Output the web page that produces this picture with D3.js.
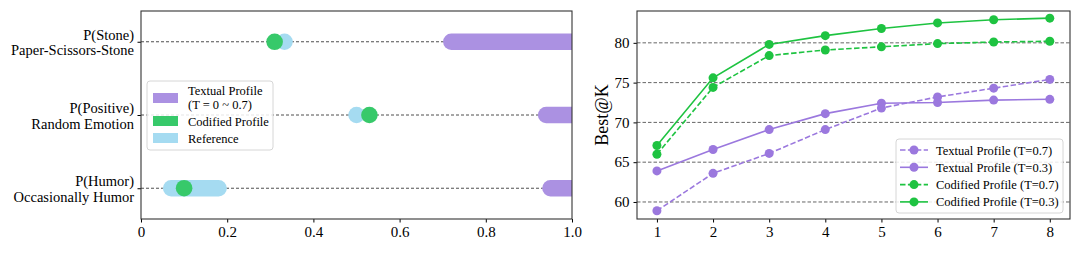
<!DOCTYPE html>
<html>
<head>
<meta charset="utf-8">
<script src="https://cdn.jsdelivr.net/npm/d3@7"></script>
<style>
  body { margin: 0; background: #fff; }
  svg, svg text { font-family: "Liberation Serif", "DejaVu Serif", serif; }
</style>
</head>
<body>
<div id="chart"></div>
<script>
// ---- data: left panel (rows top to bottom) ----
const rowProb = ["P(Stone)", "P(Positive)", "P(Humor)"];
const rowTask = ["Paper-Scissors-Stone", "Random Emotion", "Occasionally Humor"];
const textualRange = [[0.72, 1.0], [0.94, 1.0], [0.95, 1.0]];
const referenceRange = [[0.333, 0.333], [0.5, 0.5], [0.07, 0.18]];
const codifiedValue = [0.31, 0.53, 0.10];
const leftTicks = [0, 0.2, 0.4, 0.6, 0.8, 1.0];

// ---- data: right panel ----
const kValues = [1, 2, 3, 4, 5, 6, 7, 8];
const textual07 = [58.9, 63.6, 66.1, 69.1, 71.8, 73.2, 74.3, 75.4];
const textual03 = [63.9, 66.6, 69.1, 71.1, 72.4, 72.5, 72.8, 72.9];
const codified07 = [66.0, 74.4, 78.4, 79.1, 79.5, 79.9, 80.1, 80.2];
const codified03 = [67.1, 75.6, 79.8, 80.9, 81.8, 82.5, 82.9, 83.1];
const rightYTicks = [60, 65, 70, 75, 80];

const purpleBar = "#ab91e2", greenDot = "#37c96a", blueBar = "#a5dbf1";
const purpleLine = "#9b78de", greenLine = "#1ec341";

const svg = d3.select("#chart").append("svg")
    .attr("width", 1080).attr("height", 253);

// ================= left panel =================
const L = { left: 141, right: 572, top: 11, bottom: 219 };
const x1 = d3.scaleLinear().domain([0, 1]).range([L.left, L.right]);
const y1 = d3.scalePoint().domain(d3.range(3)).range([L.top, L.bottom]).padding(0.42);

svg.append("clipPath").attr("id", "clipL")
  .append("rect").attr("x", L.left).attr("y", L.top)
  .attr("width", L.right - L.left).attr("height", L.bottom - L.top);

const gL = svg.append("g");

// dashed row lines
gL.selectAll(".rowline").data(d3.range(3)).enter().append("line")
    .attr("x1", L.left).attr("x2", L.right)
    .attr("y1", d => y1(d)).attr("y2", d => y1(d))
    .attr("stroke", "#222").attr("stroke-width", 0.8)
    .attr("stroke-dasharray", "3,2");

const marks = gL.append("g").attr("clip-path", "url(#clipL)");
marks.selectAll(".tex").data(textualRange).enter().append("line")
    .attr("x1", d => x1(d[0])).attr("x2", d => x1(d[1]))
    .attr("y1", (d, i) => y1(i)).attr("y2", (d, i) => y1(i))
    .attr("stroke", purpleBar).attr("stroke-width", 16.5)
    .attr("stroke-linecap", "round");
marks.selectAll(".ref").data(referenceRange).enter().append("line")
    .attr("x1", d => x1(d[0])).attr("x2", d => x1(d[1]) + 0.01)
    .attr("y1", (d, i) => y1(i)).attr("y2", (d, i) => y1(i))
    .attr("stroke", blueBar).attr("stroke-width", 16.5)
    .attr("stroke-linecap", "round");
marks.selectAll(".cod").data(codifiedValue).enter().append("circle")
    .attr("cx", d => x1(d)).attr("cy", (d, i) => y1(i)).attr("r", 8.3)
    .attr("fill", greenDot);

// axes
const axL = gL.append("g").attr("transform", `translate(0,${L.bottom})`)
    .call(d3.axisBottom(x1).tickValues(leftTicks).tickSize(3.5).tickPadding(4))
    .attr("font-family", null).attr("font-size", null);
axL.selectAll("text").text(d => d === 0 ? "0" : d3.format(".1f")(d))
    .style("font-size", "15px").attr("fill", "#000");
axL.select(".domain").remove();

const ayL = gL.append("g").attr("transform", `translate(${L.left},0)`)
    .call(d3.axisLeft(y1).tickSize(3.5).tickFormat(""));
ayL.select(".domain").remove();
ayL.selectAll("line").attr("stroke", "#000");

const lab = gL.selectAll(".rowlab").data(d3.range(3)).enter().append("text")
    .attr("text-anchor", "end").style("font-size", "14.5px");
lab.append("tspan").attr("x", L.left - 7).attr("y", d => y1(d) - 2).text(d => rowProb[d]);
lab.append("tspan").attr("x", L.left - 7).attr("y", d => y1(d) + 13.5).text(d => rowTask[d]);

gL.append("rect").attr("x", L.left).attr("y", L.top)
    .attr("width", L.right - L.left).attr("height", L.bottom - L.top)
    .attr("fill", "none").attr("stroke", "#333").attr("stroke-width", 1.1);

// legend left
const lg = gL.append("g");
lg.append("rect").attr("x", 147).attr("y", 81).attr("width", 126).attr("height", 69)
    .attr("rx", 3).attr("fill", "rgba(255,255,255,0.85)").attr("stroke", "#d6d6d6");
const legL = [
  { c: purpleBar, y: 98, t: ["Textual Profile", "(T = 0 ~ 0.7)"] },
  { c: greenDot, y: 121, t: ["Codified Profile"] },
  { c: blueBar, y: 138, t: ["Reference"] }
];
legL.forEach(e => {
  lg.append("rect").attr("x", 153).attr("y", e.y - 5).attr("width", 25).attr("height", 10)
    .attr("fill", e.c);
  const t = lg.append("text").style("font-size", "12.5px");
  if (e.t.length === 2) {
    t.append("tspan").attr("x", 188).attr("y", e.y - 3).text(e.t[0]);
    t.append("tspan").attr("x", 188).attr("y", e.y + 11).text(e.t[1]);
  } else {
    t.append("tspan").attr("x", 188).attr("y", e.y + 4.5).text(e.t[0]);
  }
});

// ================= right panel =================
const R = { left: 637, right: 1070, top: 11, bottom: 219 };
const x2 = d3.scaleLinear().domain([0.645, 8.36]).range([R.left, R.right]);
const y2 = d3.scaleLinear().domain([57.86, 84.0]).range([R.bottom, R.top]);
const gR = svg.append("g");

gR.selectAll(".grid").data(rightYTicks).enter().append("line")
    .attr("x1", R.left).attr("x2", R.right)
    .attr("y1", d => y2(d)).attr("y2", d => y2(d))
    .attr("stroke", "#555").attr("stroke-width", 0.9)
    .attr("stroke-dasharray", "3.5,2");

const series = [
  { name: "Textual Profile (T=0.7)", v: textual07, c: purpleLine, dash: "5.5,2.4" },
  { name: "Textual Profile (T=0.3)", v: textual03, c: purpleLine, dash: null },
  { name: "Codified Profile (T=0.7)", v: codified07, c: greenLine, dash: "5.5,2.4" },
  { name: "Codified Profile (T=0.3)", v: codified03, c: greenLine, dash: null }
];
const line = d3.line().x((d, i) => x2(kValues[i])).y(d => y2(d));
series.forEach(s => {
  gR.append("path").attr("d", line(s.v)).attr("fill", "none")
    .attr("stroke", s.c).attr("stroke-width", 1.6)
    .attr("stroke-dasharray", s.dash);
  gR.selectAll(null).data(s.v).enter().append("circle")
    .attr("cx", (d, i) => x2(kValues[i])).attr("cy", d => y2(d)).attr("r", 4.5)
    .attr("fill", s.c);
});

const axR = gR.append("g").attr("transform", `translate(0,${R.bottom})`)
    .call(d3.axisBottom(x2).tickValues(kValues).tickSize(3.5).tickPadding(4))
    .attr("font-family", null).attr("font-size", null);
axR.select(".domain").remove();
axR.selectAll("text").style("font-size", "15px");
const ayR = gR.append("g").attr("transform", `translate(${R.left},0)`)
    .call(d3.axisLeft(y2).tickValues(rightYTicks).tickSize(3.5).tickPadding(4))
    .attr("font-family", null).attr("font-size", null);
ayR.select(".domain").remove();
ayR.selectAll("text").style("font-size", "15px");

gR.append("text").attr("transform", `translate(608,${(R.top + R.bottom) / 2}) rotate(-90)`)
    .attr("text-anchor", "middle").style("font-size", "18px").text("Best@K");

gR.append("rect").attr("x", R.left).attr("y", R.top)
    .attr("width", R.right - R.left).attr("height", R.bottom - R.top)
    .attr("fill", "none").attr("stroke", "#333").attr("stroke-width", 1.1);

// legend right
const lr = gR.append("g");
lr.append("rect").attr("x", 896).attr("y", 139).attr("width", 167).attr("height", 74)
    .attr("rx", 3).attr("fill", "rgba(255,255,255,0.85)").attr("stroke", "#d6d6d6");
series.forEach((s, i) => {
  const yy = 150 + i * 17.3;
  lr.append("line").attr("x1", 900).attr("x2", 928).attr("y1", yy).attr("y2", yy)
    .attr("stroke", s.c).attr("stroke-width", 1.6).attr("stroke-dasharray", s.dash);
  lr.append("circle").attr("cx", 914).attr("cy", yy).attr("r", 4.5).attr("fill", s.c);
  lr.append("text").attr("x", 936).attr("y", yy + 4.5).style("font-size", "12.5px").text(s.name);
});
</script>
</body>
</html>
